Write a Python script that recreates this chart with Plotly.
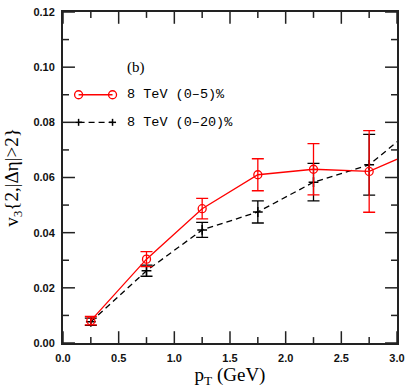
import plotly.graph_objects as go

pt = [0.25, 0.75, 1.25, 1.75, 2.25, 2.75, 3.25]
v3_0_5 = [0.0081, 0.0304, 0.0487, 0.0610, 0.0630, 0.0622, 0.0710]
err_0_5 = [0.0015, 0.0027, 0.0037, 0.0058, 0.0093, 0.0148, 0.0150]
v3_0_20 = [0.0077, 0.0262, 0.0410, 0.0475, 0.0583, 0.0646, 0.0812]
err_0_20 = [0.0013, 0.0020, 0.0027, 0.0040, 0.0068, 0.0110, 0.0110]

x_ticks = [0, 0.5, 1.0, 1.5, 2.0, 2.5, 3.0]
x_ticktext = ["0.0", "0.5", "1.0", "1.5", "2.0", "2.5", "3.0"]
x_minor = [0.25, 0.75, 1.25, 1.75, 2.25, 2.75]
y_ticks = [0, 0.02, 0.04, 0.06, 0.08, 0.10, 0.12]
y_ticktext = ["0.00", "0.02", "0.04", "0.06", "0.08", "0.10", "0.12"]
y_minor = [0.01, 0.03, 0.05, 0.07, 0.09, 0.11]

label_05 = "8 TeV (0\u20135)%"
label_020 = "8 TeV (0\u201320)%"
panel_label = "(b)"

RED = "#ff0000"
BLK = "#000000"
AX = "#222222"

W, H = 411, 390
ML, MR, MT, MB = 63, 13, 6, 47
XR = [0, 3.0]
YR = [0, 0.12]
xpx = (XR[1] - XR[0]) / (W - ML - MR)   # data units per pixel
ypx = (YR[1] - YR[0]) / (H - MT - MB)

fig = go.Figure()

# Frame ticks on all four sides (inside), built from the tick arrays
tx, ty = [], []
for v, L in [(v, 12) for v in x_ticks] + [(v, 6) for v in x_minor]:
    tx += [v, v, None, v, v, None]
    ty += [YR[0], YR[0] + L * ypx, None, YR[1], YR[1] - L * ypx, None]
for v, L in [(v, 12) for v in y_ticks] + [(v, 6) for v in y_minor]:
    tx += [XR[0], XR[0] + L * xpx, None, XR[1], XR[1] - L * xpx, None]
    ty += [v, v, None, v, v, None]
fig.add_trace(go.Scatter(x=tx, y=ty, mode="lines", line=dict(color=AX, width=1.5),
                         hoverinfo="skip", showlegend=False))

fig.add_trace(go.Scatter(
    x=pt, y=v3_0_20, mode="lines+markers", name=label_020,
    line=dict(color=BLK, width=1.3, dash="6px,4px"),
    marker=dict(symbol="cross-thin", size=7, line=dict(color=BLK, width=1.5)),
    error_y=dict(type="data", array=err_0_20, color=BLK, thickness=1.3, width=6),
))
fig.add_trace(go.Scatter(
    x=pt, y=v3_0_5, mode="lines+markers", name=label_05,
    line=dict(color=RED, width=1.3),
    marker=dict(symbol="circle-open", size=8, color=RED, line=dict(color=RED, width=1.3)),
    error_y=dict(type="data", array=err_0_5, color=RED, thickness=1.3, width=6),
))

# Hand-drawn legend (as in the original figure)
shapes = []
shapes.append(dict(type="line", xref="x", yref="y", x0=0.14, x1=0.445, y0=0.09, y1=0.09,
                   line=dict(color=RED, width=1.3)))
for xc in (0.14, 0.445):
    shapes.append(dict(type="circle", xref="x", yref="y", xsizemode="pixel", ysizemode="pixel",
                       xanchor=xc, yanchor=0.09, x0=-4, x1=4, y0=-4, y1=4,
                       line=dict(color=RED, width=1.3)))
shapes.append(dict(type="line", xref="x", yref="y", x0=0.14, x1=0.445, y0=0.08, y1=0.08,
                   line=dict(color=BLK, width=1.3, dash="6px,4px")))
for xc in (0.14, 0.445):
    shapes.append(dict(type="line", xref="x", yref="y", xsizemode="pixel", ysizemode="pixel",
                       xanchor=xc, yanchor=0.08, x0=-3.5, x1=3.5, y0=0, y1=0,
                       line=dict(color=BLK, width=1.5)))
    shapes.append(dict(type="line", xref="x", yref="y", xsizemode="pixel", ysizemode="pixel",
                       xanchor=xc, yanchor=0.08, x0=0, x1=0, y0=-3.5, y1=3.5,
                       line=dict(color=BLK, width=1.5)))

mono = dict(family="Liberation Mono, Courier New, monospace", size=13.5, color="#000")
annotations = [
    dict(x=0.556, y=0.09, xref="x", yref="y", text=label_05, showarrow=False,
         xanchor="left", yanchor="middle", font=mono),
    dict(x=0.556, y=0.08, xref="x", yref="y", text=label_020, showarrow=False,
         xanchor="left", yanchor="middle", font=mono),
    dict(x=0.556, y=0.1, xref="x", yref="y", text=panel_label, showarrow=False,
         xanchor="left", yanchor="middle",
         font=dict(family="Liberation Serif, Times New Roman, serif", size=15, color="#000")),
]

axis_common = dict(
    showline=True, linewidth=2, linecolor=AX, mirror=True,
    ticks="", showgrid=False, zeroline=False, ticklabeloverflow="allow",
    tickfont=dict(family="Liberation Sans, Arial, sans-serif", size=11, color="#111", weight=700),
    title_font=dict(family="Liberation Serif, Times New Roman, serif", size=19, color="#000"),
)

fig.update_layout(
    width=W, height=H,
    margin=dict(l=ML, r=MR, t=MT, b=MB),
    plot_bgcolor="white", paper_bgcolor="white",
    showlegend=False,
    shapes=shapes, annotations=annotations,
    xaxis=dict(range=XR, tickvals=x_ticks, ticktext=x_ticktext, ticklabelstandoff=4,
               title=dict(text="p<sub>T</sub> (GeV)", standoff=4), **axis_common),
    yaxis=dict(range=YR, tickvals=y_ticks, ticktext=y_ticktext, ticklabelstandoff=4,
               title=dict(text="v<sub>3</sub>{2,|\u0394\u03b7|>2}", standoff=10), **axis_common),
)

fig.write_html("out.html", config={"displayModeBar": False},
               post_script="document.body.style.margin='0';")
